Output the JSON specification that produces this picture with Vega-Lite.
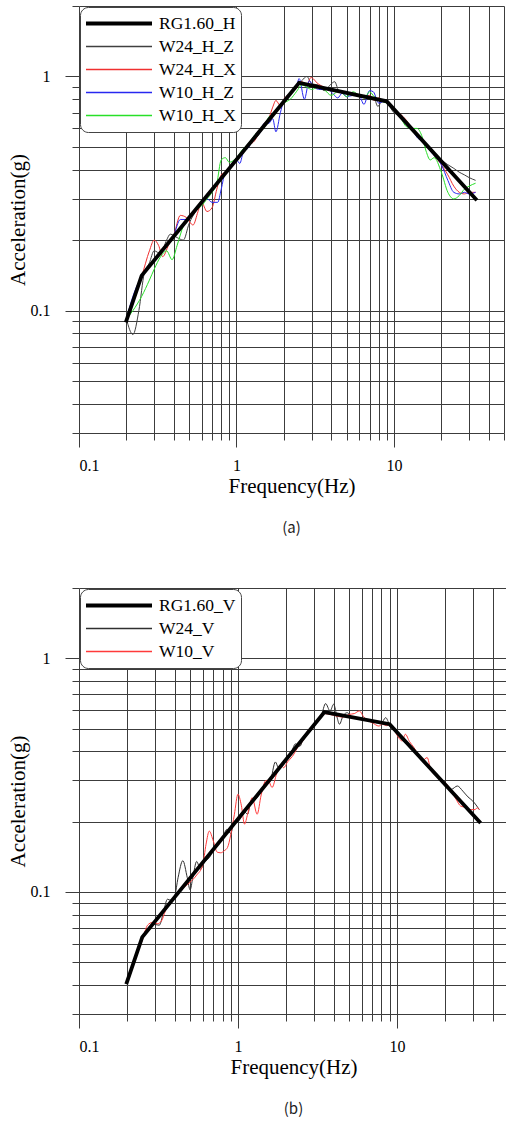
{
  "$schema": "https://vega.github.io/schema/vega-lite/v6.json",
  "background": "white",
  "padding": {"left": 7, "top": 5, "right": 0, "bottom": 0},
  "config": {
    "view": {"stroke": null},
    "axis": {
      "domain": false, "grid": true, "gridColor": "#3c3c3c", "gridOpacity": 1, "gridWidth": 1,
      "tickColor": "#3c3c3c", "tickWidth": 1,
      "labelFont": "Liberation Serif", "labelColor": "#000", "labelOverlap": false,
      "titleFont": "Liberation Serif", "titleFontSize": 21, "titleFontWeight": "normal", "titleColor": "#000"
    },
    "legend": {
      "orient": "top-left", "offset": 1, "symbolType": "stroke", "symbolSize": 4356, "clipHeight": 23, "columns": 1,
      "rowPadding": 0, "padding": 5, "fillColor": "white", "strokeColor": "#444", "cornerRadius": 8,
      "labelFont": "Liberation Serif", "labelFontSize": 17.5, "labelColor": "#000", "labelOffset": 6,
      "symbolOffset": 0, "labelLimit": 300
    },
    "title": {"font": "Noto Sans CJK KR", "fontSize": 15, "fontWeight": "normal", "color": "#222", "orient": "bottom", "offset": 25}
  },
  "datasets": {
    "A": [
      {"s":"RG1.60_H","f":0.2,"a":0.0906},{"s":"RG1.60_H","f":0.25,"a":0.141},{"s":"RG1.60_H","f":2.5,"a":0.939},{"s":"RG1.60_H","f":9,"a":0.783},{"s":"RG1.60_H","f":33,"a":0.3},
      {"s":"W24_H_Z","f":0.2,"a":0.092},{"s":"W24_H_Z","f":0.22,"a":0.079},{"s":"W24_H_Z","f":0.24,"a":0.1},{"s":"W24_H_Z","f":0.26,"a":0.145},{"s":"W24_H_Z","f":0.28,"a":0.16},{"s":"W24_H_Z","f":0.3,"a":0.18},{"s":"W24_H_Z","f":0.33,"a":0.175},{"s":"W24_H_Z","f":0.36,"a":0.2},{"s":"W24_H_Z","f":0.38,"a":0.212},{"s":"W24_H_Z","f":0.42,"a":0.205},{"s":"W24_H_Z","f":0.46,"a":0.2},{"s":"W24_H_Z","f":0.5,"a":0.235},{"s":"W24_H_Z","f":0.56,"a":0.27},{"s":"W24_H_Z","f":0.6,"a":0.29},{"s":"W24_H_Z","f":0.65,"a":0.31},{"s":"W24_H_Z","f":0.7,"a":0.33},{"s":"W24_H_Z","f":0.75,"a":0.345},{"s":"W24_H_Z","f":0.8,"a":0.37},{"s":"W24_H_Z","f":0.85,"a":0.385},{"s":"W24_H_Z","f":0.9,"a":0.4},{"s":"W24_H_Z","f":1.0,"a":0.44},{"s":"W24_H_Z","f":1.1,"a":0.47},{"s":"W24_H_Z","f":1.2,"a":0.52},{"s":"W24_H_Z","f":1.33,"a":0.545},{"s":"W24_H_Z","f":1.4,"a":0.57},{"s":"W24_H_Z","f":1.5,"a":0.62},{"s":"W24_H_Z","f":1.6,"a":0.64},{"s":"W24_H_Z","f":1.7,"a":0.68},{"s":"W24_H_Z","f":1.8,"a":0.72},{"s":"W24_H_Z","f":2.0,"a":0.79},{"s":"W24_H_Z","f":2.2,"a":0.84},{"s":"W24_H_Z","f":2.4,"a":0.9},{"s":"W24_H_Z","f":2.6,"a":0.96},{"s":"W24_H_Z","f":2.8,"a":1.0},{"s":"W24_H_Z","f":3.0,"a":0.93},{"s":"W24_H_Z","f":3.3,"a":0.92},{"s":"W24_H_Z","f":3.6,"a":0.87},{"s":"W24_H_Z","f":4.0,"a":0.93},{"s":"W24_H_Z","f":4.2,"a":0.95},{"s":"W24_H_Z","f":4.5,"a":0.86},{"s":"W24_H_Z","f":5.0,"a":0.85},{"s":"W24_H_Z","f":5.5,"a":0.84},{"s":"W24_H_Z","f":6.0,"a":0.82},{"s":"W24_H_Z","f":6.5,"a":0.83},{"s":"W24_H_Z","f":7.0,"a":0.8},{"s":"W24_H_Z","f":7.5,"a":0.8},{"s":"W24_H_Z","f":7.9,"a":0.745},{"s":"W24_H_Z","f":8.5,"a":0.79},{"s":"W24_H_Z","f":9.0,"a":0.78},{"s":"W24_H_Z","f":10,"a":0.7},{"s":"W24_H_Z","f":11,"a":0.68},{"s":"W24_H_Z","f":12,"a":0.64},{"s":"W24_H_Z","f":13,"a":0.6},{"s":"W24_H_Z","f":14,"a":0.56},{"s":"W24_H_Z","f":15,"a":0.54},{"s":"W24_H_Z","f":16,"a":0.51},{"s":"W24_H_Z","f":17,"a":0.49},{"s":"W24_H_Z","f":18,"a":0.47},{"s":"W24_H_Z","f":20,"a":0.44},{"s":"W24_H_Z","f":22,"a":0.42},{"s":"W24_H_Z","f":24,"a":0.405},{"s":"W24_H_Z","f":26,"a":0.39},{"s":"W24_H_Z","f":28,"a":0.38},{"s":"W24_H_Z","f":30,"a":0.37},{"s":"W24_H_Z","f":33,"a":0.36},
      {"s":"W24_H_X","f":0.2,"a":0.092},{"s":"W24_H_X","f":0.22,"a":0.11},{"s":"W24_H_X","f":0.25,"a":0.14},{"s":"W24_H_X","f":0.28,"a":0.18},{"s":"W24_H_X","f":0.3,"a":0.2},{"s":"W24_H_X","f":0.32,"a":0.19},{"s":"W24_H_X","f":0.34,"a":0.17},{"s":"W24_H_X","f":0.37,"a":0.19},{"s":"W24_H_X","f":0.4,"a":0.21},{"s":"W24_H_X","f":0.44,"a":0.255},{"s":"W24_H_X","f":0.48,"a":0.25},{"s":"W24_H_X","f":0.53,"a":0.232},{"s":"W24_H_X","f":0.57,"a":0.265},{"s":"W24_H_X","f":0.6,"a":0.29},{"s":"W24_H_X","f":0.65,"a":0.265},{"s":"W24_H_X","f":0.7,"a":0.275},{"s":"W24_H_X","f":0.75,"a":0.33},{"s":"W24_H_X","f":0.8,"a":0.38},{"s":"W24_H_X","f":0.85,"a":0.39},{"s":"W24_H_X","f":0.9,"a":0.4},{"s":"W24_H_X","f":0.95,"a":0.43},{"s":"W24_H_X","f":1.0,"a":0.44},{"s":"W24_H_X","f":1.1,"a":0.48},{"s":"W24_H_X","f":1.2,"a":0.51},{"s":"W24_H_X","f":1.3,"a":0.53},{"s":"W24_H_X","f":1.4,"a":0.58},{"s":"W24_H_X","f":1.5,"a":0.63},{"s":"W24_H_X","f":1.6,"a":0.66},{"s":"W24_H_X","f":1.7,"a":0.74},{"s":"W24_H_X","f":1.78,"a":0.79},{"s":"W24_H_X","f":1.9,"a":0.75},{"s":"W24_H_X","f":2.0,"a":0.8},{"s":"W24_H_X","f":2.2,"a":0.85},{"s":"W24_H_X","f":2.4,"a":0.89},{"s":"W24_H_X","f":2.6,"a":0.95},{"s":"W24_H_X","f":2.8,"a":0.92},{"s":"W24_H_X","f":2.97,"a":0.99},{"s":"W24_H_X","f":3.3,"a":0.93},{"s":"W24_H_X","f":3.6,"a":0.9},{"s":"W24_H_X","f":4.0,"a":0.87},{"s":"W24_H_X","f":4.5,"a":0.87},{"s":"W24_H_X","f":5.0,"a":0.85},{"s":"W24_H_X","f":5.5,"a":0.84},{"s":"W24_H_X","f":6.0,"a":0.83},{"s":"W24_H_X","f":6.5,"a":0.82},{"s":"W24_H_X","f":7.0,"a":0.83},{"s":"W24_H_X","f":7.5,"a":0.79},{"s":"W24_H_X","f":8.0,"a":0.81},{"s":"W24_H_X","f":8.5,"a":0.79},{"s":"W24_H_X","f":9.0,"a":0.78},{"s":"W24_H_X","f":10,"a":0.72},{"s":"W24_H_X","f":11,"a":0.69},{"s":"W24_H_X","f":12,"a":0.65},{"s":"W24_H_X","f":13,"a":0.6},{"s":"W24_H_X","f":14,"a":0.56},{"s":"W24_H_X","f":15,"a":0.53},{"s":"W24_H_X","f":16,"a":0.51},{"s":"W24_H_X","f":17,"a":0.49},{"s":"W24_H_X","f":18,"a":0.46},{"s":"W24_H_X","f":20,"a":0.42},{"s":"W24_H_X","f":22,"a":0.38},{"s":"W24_H_X","f":24,"a":0.34},{"s":"W24_H_X","f":26,"a":0.32},{"s":"W24_H_X","f":28,"a":0.315},{"s":"W24_H_X","f":30,"a":0.32},{"s":"W24_H_X","f":33,"a":0.32},
      {"s":"W10_H_Z","f":0.2,"a":0.092},{"s":"W10_H_Z","f":0.22,"a":0.115},{"s":"W10_H_Z","f":0.25,"a":0.14},{"s":"W10_H_Z","f":0.28,"a":0.155},{"s":"W10_H_Z","f":0.3,"a":0.165},{"s":"W10_H_Z","f":0.33,"a":0.175},{"s":"W10_H_Z","f":0.36,"a":0.19},{"s":"W10_H_Z","f":0.4,"a":0.21},{"s":"W10_H_Z","f":0.44,"a":0.245},{"s":"W10_H_Z","f":0.48,"a":0.245},{"s":"W10_H_Z","f":0.52,"a":0.26},{"s":"W10_H_Z","f":0.56,"a":0.27},{"s":"W10_H_Z","f":0.6,"a":0.29},{"s":"W10_H_Z","f":0.65,"a":0.3},{"s":"W10_H_Z","f":0.7,"a":0.29},{"s":"W10_H_Z","f":0.76,"a":0.29},{"s":"W10_H_Z","f":0.8,"a":0.33},{"s":"W10_H_Z","f":0.85,"a":0.39},{"s":"W10_H_Z","f":0.9,"a":0.4},{"s":"W10_H_Z","f":0.95,"a":0.42},{"s":"W10_H_Z","f":1.0,"a":0.44},{"s":"W10_H_Z","f":1.05,"a":0.425},{"s":"W10_H_Z","f":1.1,"a":0.47},{"s":"W10_H_Z","f":1.2,"a":0.5},{"s":"W10_H_Z","f":1.3,"a":0.56},{"s":"W10_H_Z","f":1.4,"a":0.57},{"s":"W10_H_Z","f":1.5,"a":0.63},{"s":"W10_H_Z","f":1.6,"a":0.63},{"s":"W10_H_Z","f":1.7,"a":0.66},{"s":"W10_H_Z","f":1.78,"a":0.58},{"s":"W10_H_Z","f":1.9,"a":0.7},{"s":"W10_H_Z","f":2.0,"a":0.79},{"s":"W10_H_Z","f":2.2,"a":0.85},{"s":"W10_H_Z","f":2.4,"a":0.9},{"s":"W10_H_Z","f":2.5,"a":0.98},{"s":"W10_H_Z","f":2.7,"a":0.8},{"s":"W10_H_Z","f":2.9,"a":0.96},{"s":"W10_H_Z","f":3.1,"a":0.9},{"s":"W10_H_Z","f":3.4,"a":0.88},{"s":"W10_H_Z","f":3.8,"a":0.88},{"s":"W10_H_Z","f":4.0,"a":0.86},{"s":"W10_H_Z","f":4.4,"a":0.81},{"s":"W10_H_Z","f":4.7,"a":0.85},{"s":"W10_H_Z","f":5.0,"a":0.82},{"s":"W10_H_Z","f":5.5,"a":0.83},{"s":"W10_H_Z","f":6.0,"a":0.83},{"s":"W10_H_Z","f":6.45,"a":0.76},{"s":"W10_H_Z","f":7.0,"a":0.87},{"s":"W10_H_Z","f":7.4,"a":0.86},{"s":"W10_H_Z","f":8.0,"a":0.77},{"s":"W10_H_Z","f":8.5,"a":0.78},{"s":"W10_H_Z","f":9.0,"a":0.78},{"s":"W10_H_Z","f":10,"a":0.72},{"s":"W10_H_Z","f":11,"a":0.68},{"s":"W10_H_Z","f":12,"a":0.64},{"s":"W10_H_Z","f":13,"a":0.6},{"s":"W10_H_Z","f":14,"a":0.55},{"s":"W10_H_Z","f":15,"a":0.53},{"s":"W10_H_Z","f":16,"a":0.51},{"s":"W10_H_Z","f":17,"a":0.48},{"s":"W10_H_Z","f":18,"a":0.46},{"s":"W10_H_Z","f":20,"a":0.42},{"s":"W10_H_Z","f":22,"a":0.36},{"s":"W10_H_Z","f":24,"a":0.32},{"s":"W10_H_Z","f":26,"a":0.315},{"s":"W10_H_Z","f":28,"a":0.32},{"s":"W10_H_Z","f":30,"a":0.315},{"s":"W10_H_Z","f":33,"a":0.32},
      {"s":"W10_H_X","f":0.2,"a":0.092},{"s":"W10_H_X","f":0.22,"a":0.1},{"s":"W10_H_X","f":0.25,"a":0.115},{"s":"W10_H_X","f":0.28,"a":0.135},{"s":"W10_H_X","f":0.3,"a":0.15},{"s":"W10_H_X","f":0.33,"a":0.17},{"s":"W10_H_X","f":0.36,"a":0.18},{"s":"W10_H_X","f":0.39,"a":0.165},{"s":"W10_H_X","f":0.42,"a":0.19},{"s":"W10_H_X","f":0.46,"a":0.23},{"s":"W10_H_X","f":0.5,"a":0.25},{"s":"W10_H_X","f":0.55,"a":0.27},{"s":"W10_H_X","f":0.6,"a":0.28},{"s":"W10_H_X","f":0.65,"a":0.3},{"s":"W10_H_X","f":0.7,"a":0.32},{"s":"W10_H_X","f":0.75,"a":0.35},{"s":"W10_H_X","f":0.8,"a":0.44},{"s":"W10_H_X","f":0.85,"a":0.45},{"s":"W10_H_X","f":0.9,"a":0.43},{"s":"W10_H_X","f":1.0,"a":0.45},{"s":"W10_H_X","f":1.1,"a":0.49},{"s":"W10_H_X","f":1.2,"a":0.52},{"s":"W10_H_X","f":1.3,"a":0.56},{"s":"W10_H_X","f":1.4,"a":0.59},{"s":"W10_H_X","f":1.5,"a":0.61},{"s":"W10_H_X","f":1.6,"a":0.67},{"s":"W10_H_X","f":1.7,"a":0.69},{"s":"W10_H_X","f":1.8,"a":0.72},{"s":"W10_H_X","f":2.0,"a":0.77},{"s":"W10_H_X","f":2.2,"a":0.8},{"s":"W10_H_X","f":2.4,"a":0.86},{"s":"W10_H_X","f":2.6,"a":0.92},{"s":"W10_H_X","f":2.8,"a":0.9},{"s":"W10_H_X","f":3.0,"a":0.88},{"s":"W10_H_X","f":3.3,"a":0.9},{"s":"W10_H_X","f":3.6,"a":0.88},{"s":"W10_H_X","f":4.0,"a":0.83},{"s":"W10_H_X","f":4.5,"a":0.87},{"s":"W10_H_X","f":5.0,"a":0.82},{"s":"W10_H_X","f":5.5,"a":0.86},{"s":"W10_H_X","f":6.0,"a":0.83},{"s":"W10_H_X","f":6.5,"a":0.81},{"s":"W10_H_X","f":7.0,"a":0.86},{"s":"W10_H_X","f":7.5,"a":0.82},{"s":"W10_H_X","f":8.0,"a":0.8},{"s":"W10_H_X","f":8.5,"a":0.78},{"s":"W10_H_X","f":9.0,"a":0.77},{"s":"W10_H_X","f":10,"a":0.73},{"s":"W10_H_X","f":11,"a":0.67},{"s":"W10_H_X","f":12,"a":0.61},{"s":"W10_H_X","f":13,"a":0.6},{"s":"W10_H_X","f":14,"a":0.6},{"s":"W10_H_X","f":15,"a":0.56},{"s":"W10_H_X","f":16,"a":0.48},{"s":"W10_H_X","f":17,"a":0.44},{"s":"W10_H_X","f":18,"a":0.45},{"s":"W10_H_X","f":20,"a":0.39},{"s":"W10_H_X","f":22,"a":0.32},{"s":"W10_H_X","f":24,"a":0.3},{"s":"W10_H_X","f":26,"a":0.31},{"s":"W10_H_X","f":28,"a":0.33},{"s":"W10_H_X","f":30,"a":0.34},{"s":"W10_H_X","f":33,"a":0.35}
    ],
    "B": [
      {"s":"RG1.60_V","f":0.2,"a":0.041},{"s":"RG1.60_V","f":0.25,"a":0.064},{"s":"RG1.60_V","f":3.5,"a":0.588},{"s":"RG1.60_V","f":9,"a":0.522},{"s":"RG1.60_V","f":33,"a":0.2},
      {"s":"W24_V","f":0.2,"a":0.041},{"s":"W24_V","f":0.22,"a":0.05},{"s":"W24_V","f":0.25,"a":0.064},{"s":"W24_V","f":0.27,"a":0.07},{"s":"W24_V","f":0.3,"a":0.0725},{"s":"W24_V","f":0.32,"a":0.072},{"s":"W24_V","f":0.34,"a":0.082},{"s":"W24_V","f":0.36,"a":0.093},{"s":"W24_V","f":0.38,"a":0.092},{"s":"W24_V","f":0.4,"a":0.096},{"s":"W24_V","f":0.42,"a":0.115},{"s":"W24_V","f":0.45,"a":0.136},{"s":"W24_V","f":0.48,"a":0.115},{"s":"W24_V","f":0.5,"a":0.102},{"s":"W24_V","f":0.52,"a":0.115},{"s":"W24_V","f":0.55,"a":0.135},{"s":"W24_V","f":0.58,"a":0.125},{"s":"W24_V","f":0.62,"a":0.135},{"s":"W24_V","f":0.66,"a":0.14},{"s":"W24_V","f":0.7,"a":0.15},{"s":"W24_V","f":0.75,"a":0.16},{"s":"W24_V","f":0.8,"a":0.17},{"s":"W24_V","f":0.85,"a":0.185},{"s":"W24_V","f":0.9,"a":0.178},{"s":"W24_V","f":0.95,"a":0.2},{"s":"W24_V","f":1.0,"a":0.2},{"s":"W24_V","f":1.05,"a":0.21},{"s":"W24_V","f":1.1,"a":0.22},{"s":"W24_V","f":1.15,"a":0.215},{"s":"W24_V","f":1.2,"a":0.24},{"s":"W24_V","f":1.3,"a":0.25},{"s":"W24_V","f":1.4,"a":0.27},{"s":"W24_V","f":1.5,"a":0.29},{"s":"W24_V","f":1.6,"a":0.3},{"s":"W24_V","f":1.72,"a":0.36},{"s":"W24_V","f":1.8,"a":0.34},{"s":"W24_V","f":1.9,"a":0.355},{"s":"W24_V","f":2.0,"a":0.37},{"s":"W24_V","f":2.15,"a":0.39},{"s":"W24_V","f":2.3,"a":0.43},{"s":"W24_V","f":2.45,"a":0.42},{"s":"W24_V","f":2.6,"a":0.46},{"s":"W24_V","f":2.8,"a":0.48},{"s":"W24_V","f":3.0,"a":0.51},{"s":"W24_V","f":3.2,"a":0.54},{"s":"W24_V","f":3.35,"a":0.57},{"s":"W24_V","f":3.56,"a":0.64},{"s":"W24_V","f":3.8,"a":0.595},{"s":"W24_V","f":4.0,"a":0.636},{"s":"W24_V","f":4.2,"a":0.56},{"s":"W24_V","f":4.35,"a":0.522},{"s":"W24_V","f":4.6,"a":0.57},{"s":"W24_V","f":4.88,"a":0.585},{"s":"W24_V","f":5.2,"a":0.56},{"s":"W24_V","f":5.6,"a":0.555},{"s":"W24_V","f":6.0,"a":0.55},{"s":"W24_V","f":6.5,"a":0.545},{"s":"W24_V","f":7.0,"a":0.535},{"s":"W24_V","f":7.5,"a":0.53},{"s":"W24_V","f":8.0,"a":0.53},{"s":"W24_V","f":8.5,"a":0.557},{"s":"W24_V","f":9.0,"a":0.52},{"s":"W24_V","f":9.5,"a":0.5},{"s":"W24_V","f":10,"a":0.48},{"s":"W24_V","f":11,"a":0.44},{"s":"W24_V","f":12,"a":0.42},{"s":"W24_V","f":13,"a":0.4},{"s":"W24_V","f":14,"a":0.38},{"s":"W24_V","f":15,"a":0.36},{"s":"W24_V","f":16,"a":0.345},{"s":"W24_V","f":17,"a":0.33},{"s":"W24_V","f":18,"a":0.315},{"s":"W24_V","f":20,"a":0.29},{"s":"W24_V","f":22,"a":0.275},{"s":"W24_V","f":24,"a":0.284},{"s":"W24_V","f":26,"a":0.27},{"s":"W24_V","f":28,"a":0.255},{"s":"W24_V","f":30,"a":0.245},{"s":"W24_V","f":33,"a":0.225},
      {"s":"W10_V","f":0.2,"a":0.041},{"s":"W10_V","f":0.22,"a":0.049},{"s":"W10_V","f":0.25,"a":0.062},{"s":"W10_V","f":0.27,"a":0.072},{"s":"W10_V","f":0.29,"a":0.074},{"s":"W10_V","f":0.31,"a":0.073},{"s":"W10_V","f":0.33,"a":0.075},{"s":"W10_V","f":0.35,"a":0.083},{"s":"W10_V","f":0.38,"a":0.09},{"s":"W10_V","f":0.4,"a":0.095},{"s":"W10_V","f":0.43,"a":0.101},{"s":"W10_V","f":0.46,"a":0.105},{"s":"W10_V","f":0.5,"a":0.11},{"s":"W10_V","f":0.55,"a":0.118},{"s":"W10_V","f":0.6,"a":0.13},{"s":"W10_V","f":0.63,"a":0.16},{"s":"W10_V","f":0.66,"a":0.182},{"s":"W10_V","f":0.7,"a":0.165},{"s":"W10_V","f":0.74,"a":0.148},{"s":"W10_V","f":0.78,"a":0.147},{"s":"W10_V","f":0.82,"a":0.15},{"s":"W10_V","f":0.86,"a":0.155},{"s":"W10_V","f":0.9,"a":0.175},{"s":"W10_V","f":0.95,"a":0.215},{"s":"W10_V","f":1.0,"a":0.262},{"s":"W10_V","f":1.05,"a":0.235},{"s":"W10_V","f":1.1,"a":0.195},{"s":"W10_V","f":1.15,"a":0.215},{"s":"W10_V","f":1.23,"a":0.253},{"s":"W10_V","f":1.32,"a":0.215},{"s":"W10_V","f":1.4,"a":0.26},{"s":"W10_V","f":1.5,"a":0.3},{"s":"W10_V","f":1.55,"a":0.3},{"s":"W10_V","f":1.64,"a":0.28},{"s":"W10_V","f":1.75,"a":0.32},{"s":"W10_V","f":1.85,"a":0.35},{"s":"W10_V","f":1.94,"a":0.34},{"s":"W10_V","f":2.05,"a":0.36},{"s":"W10_V","f":2.2,"a":0.38},{"s":"W10_V","f":2.4,"a":0.42},{"s":"W10_V","f":2.6,"a":0.45},{"s":"W10_V","f":2.75,"a":0.49},{"s":"W10_V","f":2.94,"a":0.505},{"s":"W10_V","f":3.1,"a":0.53},{"s":"W10_V","f":3.3,"a":0.56},{"s":"W10_V","f":3.5,"a":0.58},{"s":"W10_V","f":3.8,"a":0.575},{"s":"W10_V","f":4.2,"a":0.565},{"s":"W10_V","f":4.6,"a":0.56},{"s":"W10_V","f":5.0,"a":0.575},{"s":"W10_V","f":5.4,"a":0.58},{"s":"W10_V","f":5.8,"a":0.595},{"s":"W10_V","f":6.2,"a":0.56},{"s":"W10_V","f":6.6,"a":0.54},{"s":"W10_V","f":7.0,"a":0.53},{"s":"W10_V","f":7.7,"a":0.513},{"s":"W10_V","f":8.1,"a":0.522},{"s":"W10_V","f":8.6,"a":0.515},{"s":"W10_V","f":9.0,"a":0.52},{"s":"W10_V","f":9.5,"a":0.5},{"s":"W10_V","f":10,"a":0.47},{"s":"W10_V","f":10.8,"a":0.443},{"s":"W10_V","f":11.3,"a":0.473},{"s":"W10_V","f":12,"a":0.44},{"s":"W10_V","f":12.8,"a":0.415},{"s":"W10_V","f":13.5,"a":0.39},{"s":"W10_V","f":14.5,"a":0.365},{"s":"W10_V","f":15.5,"a":0.376},{"s":"W10_V","f":16.3,"a":0.335},{"s":"W10_V","f":17.5,"a":0.315},{"s":"W10_V","f":19,"a":0.3},{"s":"W10_V","f":20.5,"a":0.29},{"s":"W10_V","f":22,"a":0.27},{"s":"W10_V","f":23.5,"a":0.25},{"s":"W10_V","f":25.2,"a":0.233},{"s":"W10_V","f":27,"a":0.23},{"s":"W10_V","f":29,"a":0.225},{"s":"W10_V","f":31,"a":0.225},{"s":"W10_V","f":32,"a":0.229},{"s":"W10_V","f":33,"a":0.225}
    ]
  },
  "vconcat": [
    {
      "width": 425, "height": 427,
      "title": {"text": "(a)"},
      "data": {"name": "A"},
      "encoding": {
        "x": {"field": "f", "type": "quantitative", "scale": {"type": "log", "domain": [0.1, 50], "nice": false},
          "axis": {"title": "Frequency(Hz)", "values": [0.1,0.2,0.3,0.4,0.5,0.6,0.7,0.8,0.9,1,2,3,4,5,6,7,8,9,10,20,30,40,50],
            "labelExpr": "datum.value==0.1||datum.value==1||datum.value==10 ? format(datum.value,'~g') : ''",
            "labelFontSize": {"condition": {"test": "datum.value==0.1||datum.value==1||datum.value==10", "value": 16}, "value": 0},
            "tickSize": {"condition": {"test": "datum.value==0.1||datum.value==1||datum.value==10", "value": 14}, "value": 7},
            "labelPadding": 10, "titlePadding": 2}},
        "y": {"field": "a", "type": "quantitative", "scale": {"type": "log", "domain": [0.03, 2], "nice": false},
          "axis": {"title": "Acceleration(g)", "values": [0.03,0.04,0.05,0.06,0.07,0.08,0.09,0.1,0.2,0.3,0.4,0.5,0.6,0.7,0.8,0.9,1,2],
            "labelExpr": "datum.value==0.1||datum.value==1 ? format(datum.value,'~g') : ''",
            "labelFontSize": {"condition": {"test": "datum.value==0.1||datum.value==1", "value": 16}, "value": 0},
            "tickSize": {"condition": {"test": "datum.value==0.1||datum.value==1", "value": 14}, "value": 7},
            "labelPadding": 15, "titlePadding": 2}},
        "color": {"field": "s", "type": "nominal",
          "scale": {"domain": ["RG1.60_H","W24_H_Z","W24_H_X","W10_H_Z","W10_H_X"], "range": ["#000000","#404040","#f03030","#2828f0","#28e028"]},
          "legend": {"title": null, "encode": {"symbols": {"update": {"strokeWidth": {"signal": "(datum.value == 'RG1.60_H' ? 3.8 : 1.3)"}}}}}}
      },
      "layer": [
        {"transform": [{"filter": "datum.s != 'RG1.60_H'"}], "mark": {"type": "line", "interpolate": "monotone", "strokeWidth": 1}},
        {"transform": [{"filter": "datum.s == 'RG1.60_H'"}], "mark": {"type": "line", "strokeWidth": 3.8, "strokeCap": "square"}}
      ]
    },
    {
      "width": 429, "height": 426,
      "title": {"text": "(b)"},
      "data": {"name": "B"},
      "encoding": {
        "x": {"field": "f", "type": "quantitative", "scale": {"type": "log", "domain": [0.1, 50], "nice": false},
          "axis": {"title": "Frequency(Hz)", "values": [0.1,0.2,0.3,0.4,0.5,0.6,0.7,0.8,0.9,1,2,3,4,5,6,7,8,9,10,20,30,40,50],
            "labelExpr": "datum.value==0.1||datum.value==1||datum.value==10 ? format(datum.value,'~g') : ''",
            "labelFontSize": {"condition": {"test": "datum.value==0.1||datum.value==1||datum.value==10", "value": 16}, "value": 0},
            "tickSize": {"condition": {"test": "datum.value==0.1||datum.value==1||datum.value==10", "value": 14}, "value": 7},
            "labelPadding": 10, "titlePadding": 2}},
        "y": {"field": "a", "type": "quantitative", "scale": {"type": "log", "domain": [0.03, 2], "nice": false},
          "axis": {"title": "Acceleration(g)", "values": [0.03,0.04,0.05,0.06,0.07,0.08,0.09,0.1,0.2,0.3,0.4,0.5,0.6,0.7,0.8,0.9,1,2],
            "labelExpr": "datum.value==0.1||datum.value==1 ? format(datum.value,'~g') : ''",
            "labelFontSize": {"condition": {"test": "datum.value==0.1||datum.value==1", "value": 16}, "value": 0},
            "tickSize": {"condition": {"test": "datum.value==0.1||datum.value==1", "value": 14}, "value": 7},
            "labelPadding": 15, "titlePadding": 2}},
        "color": {"field": "s", "type": "nominal",
          "scale": {"domain": ["RG1.60_V","W24_V","W10_V"], "range": ["#000000","#303030","#ff3a3a"]},
          "legend": {"title": null, "encode": {"symbols": {"update": {"strokeWidth": {"signal": "(datum.value == 'RG1.60_V' ? 3.8 : 1.3)"}}}}}}
      },
      "layer": [
        {"transform": [{"filter": "datum.s != 'RG1.60_V'"}], "mark": {"type": "line", "interpolate": "monotone", "strokeWidth": 1}},
        {"transform": [{"filter": "datum.s == 'RG1.60_V'"}], "mark": {"type": "line", "strokeWidth": 3.8, "strokeCap": "square"}}
      ]
    }
  ],
  "spacing": 51,
  "resolve": {"scale": {"color": "independent", "x": "independent", "y": "independent"}, "legend": {"color": "independent"}}
}
